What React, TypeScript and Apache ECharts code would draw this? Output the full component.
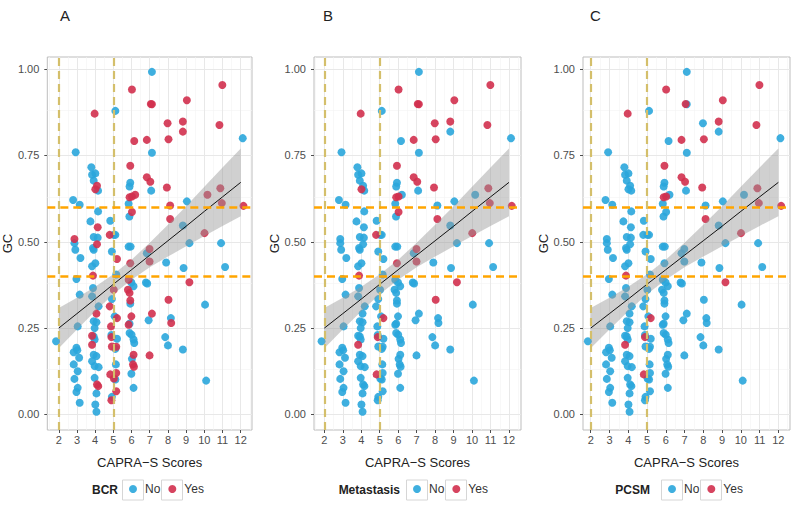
import React, { useEffect, useRef } from "react";
import * as echarts from "echarts";

// ---- data ----
// Patients without any event (blue in all three panels)
const capraNoEvent = [
  1.85, 2.79, 2.93, 3.15, 2.86, 2.91, 3.19, 2.97, 3.15, 3.04, 2.97, 2.82, 3.02, 3.12, 2.82, 3.04, 2.86, 3.04, 2.97, 3.15,
  3.79, 4.01, 3.83, 3.92, 4.16, 3.74, 4.16, 3.92, 4.14, 3.92, 3.88, 4.01, 3.83, 3.88, 3.83, 4.19, 3.92, 4.07, 3.97, 3.97,
  3.92, 4.07, 3.83, 3.97, 4.19, 3.97, 4.07, 4.01, 4.07, 3.92,
  5.11, 4.83, 5.02, 5.11, 4.92, 5.16, 4.92, 5.07, 5.2, 4.89, 5.11, 5.14, 5.11, 4.92,
  5.93, 5.89, 5.84, 5.88, 5.84, 5.95, 5.99, 6.11, 5.93, 5.89, 5.89, 6.0, 6.11, 6.15, 6.02, 5.99, 6.11,
  7.12, 7.12, 7.08, 6.84, 6.79, 6.86, 6.94,
  7.9, 7.85, 8.0, 8.16,
  9.04, 8.82, 9.18, 8.86, 8.82,
  10.04, 10.1,
  10.92, 11.14,
  12.11,
];
const gcNoEvent = [
  0.212, 0.621, 0.759, 0.607, 0.496, 0.477, 0.453, 0.392, 0.347, 0.255, 0.193, 0.18, 0.186, 0.164, 0.145, 0.125, 0.103, 0.077, 0.065, 0.034,
  0.716, 0.698, 0.694, 0.677, 0.648, 0.559, 0.588, 0.514, 0.512, 0.477, 0.482, 0.438, 0.429, 0.366, 0.342, 0.313, 0.27, 0.267, 0.25, 0.217,
  0.173, 0.169, 0.154, 0.14, 0.137, 0.106, 0.061, 0.029, 0.008, 0.226,
  0.879, 0.561, 0.52, 0.52, 0.472, 0.405, 0.334, 0.284, 0.219, 0.23, 0.19, 0.145, 0.101, 0.051,
  0.671, 0.66, 0.61, 0.573, 0.486, 0.486, 0.382, 0.371, 0.321, 0.263, 0.236, 0.231, 0.217, 0.207, 0.161, 0.118, 0.077,
  0.992, 0.758, 0.648, 0.467, 0.382, 0.379, 0.273,
  0.44, 0.224, 0.2, 0.279,
  0.617, 0.547, 0.496, 0.424, 0.188,
  0.318, 0.098,
  0.496, 0.427,
  0.8,
];
// Patients with BCR (red in panel A)
const capraBcr = [
  2.86,
  3.97, 4.1, 4.01, 4.14, 4.1, 3.88, 4.07, 3.83, 3.83, 4.1, 4.17,
  4.8, 5.2, 5.02, 4.8, 4.87, 5.2, 4.89, 4.92, 5.16, 4.83, 5.16, 5.03, 5.16, 4.89,
  6.02, 6.15, 5.93, 5.89, 6.02, 6.2, 6.02, 5.93, 5.84, 5.8, 5.89, 5.93, 5.99, 5.84, 6.11, 6.08, 6.13,
  7.06, 7.12, 6.84, 6.84, 7.03, 6.99, 6.99, 7.12, 6.99,
  7.98, 8.03, 7.94, 8.12, 8.12, 8.03, 8.18,
  9.04, 8.82, 8.82, 9.18,
  10.17, 10.01,
  10.99, 10.83, 10.88, 10.96,
  12.15,
];
const gcBcr = [
  0.508,
  0.871, 0.662, 0.652, 0.542, 0.493, 0.402, 0.292, 0.228, 0.202, 0.087, 0.082,
  0.52, 0.45, 0.361, 0.313, 0.255, 0.279, 0.224, 0.197, 0.196, 0.116, 0.12, 0.104, 0.067, 0.041,
  0.941, 0.792, 0.72, 0.629, 0.631, 0.636, 0.586, 0.438, 0.39, 0.361, 0.352, 0.33, 0.284, 0.26, 0.173, 0.145, 0.138,
  0.899, 0.898, 0.795, 0.687, 0.674, 0.479, 0.443, 0.292, 0.171,
  0.843, 0.797, 0.657, 0.605, 0.566, 0.332, 0.265,
  0.91, 0.848, 0.819, 0.383,
  0.636, 0.525,
  0.954, 0.838, 0.655, 0.612,
  0.604,
];
// Among BCR patients: metastasis (panel B) and PCSM (panel C), 1 = Yes
const metastasisFlags = [
  0,
  1, 0, 1, 0, 0, 1, 0, 0, 1, 0, 0,
  1, 0, 0, 0, 0, 1, 1, 0, 0, 1, 0, 0, 0, 0,
  1, 0, 1, 1, 1, 0, 1, 1, 0, 0, 0, 0, 0, 0, 0, 0, 0,
  1, 1, 1, 1, 1, 1, 1, 0, 0,
  1, 1, 1, 0, 1, 1, 0,
  1, 1, 0, 1,
  0, 1,
  1, 1, 1, 1,
  1,
];
const pcsmFlags = [
  0,
  1, 0, 0, 0, 0, 1, 0, 0, 1, 0, 0,
  0, 0, 0, 0, 0, 1, 1, 0, 0, 1, 0, 0, 0, 0,
  1, 0, 1, 1, 1, 0, 0, 0, 0, 0, 0, 0, 0, 0, 0, 0, 0,
  1, 0, 1, 1, 1, 0, 0, 0, 0,
  0, 1, 1, 0, 1, 0, 0,
  1, 1, 0, 1,
  0, 1,
  1, 1, 1, 1,
  1,
];

// Linear fit with 95% confidence band
const fitX = [2, 3, 4, 5, 6, 7, 8, 9, 10, 11, 12];
const fitY = [0.25, 0.292, 0.334, 0.377, 0.419, 0.461, 0.503, 0.545, 0.588, 0.63, 0.672];
const bandLo = [0.192, 0.246, 0.299, 0.348, 0.39, 0.426, 0.457, 0.487, 0.517, 0.546, 0.574];
const bandHi = [0.308, 0.338, 0.37, 0.406, 0.448, 0.497, 0.549, 0.603, 0.659, 0.715, 0.77];

const xTicks = [2, 3, 4, 5, 6, 7, 8, 9, 10, 11, 12];
const xMinor = [1.5, 2.5, 3.5, 4.5, 5.5, 6.5, 7.5, 8.5, 9.5, 10.5, 11.5, 12.5];
const yTicks = [0, 0.25, 0.5, 0.75, 1];
const yMinor = [0.125, 0.375, 0.625, 0.875];
const gcCutoffs = [0.4, 0.6];
const capraCutoffs = [2, 5];

const panelLetters = ["A", "B", "C"];
const outcomeNames = ["BCR", "Metastasis", "PCSM"];
const legendLabels = ["No", "Yes"];

// ---- layout / style ----
const FONT = "'Liberation Sans', Arial, sans-serif";
const BLUE = "#2aa6dc";
const RED = "#d2304e";
const panels = [
  { left: 47, width: 205, xMin: 1.37, xMax: 12.62, letterX: 60, legendLeft: 129, titleRight: 118 },
  { left: 314, width: 207, xMin: 1.44, xMax: 12.65, letterX: 323, legendLeft: 413, titleRight: 400 },
  { left: 583, width: 207, xMin: 1.59, xMax: 12.62, letterX: 590, legendLeft: 668, titleRight: 650 },
];
const GRID_TOP = 57;
const GRID_H = 373;

function buildOption() {
  const grid: any[] = [];
  const xAxis: any[] = [];
  const yAxis: any[] = [];
  const series: any[] = [];
  const legend: any[] = [];
  const graphic: any[] = [];

  const flagsByPanel = [null, metastasisFlags, pcsmFlags];

  panels.forEach((p, i) => {
    grid.push({
      left: p.left,
      top: GRID_TOP,
      width: p.width,
      height: GRID_H,
      show: true,
      borderColor: "#bdbdbd",
      borderWidth: 1,
      backgroundColor: "#ffffff",
    });
    xAxis.push({
      gridIndex: i,
      type: "value",
      min: p.xMin,
      max: p.xMax,
      splitLine: { show: false },
      axisLine: { show: false, onZero: false },
      axisTick: { show: true, customValues: xTicks, length: 3, lineStyle: { color: "#4d4d4d" } },
      axisLabel: { customValues: xTicks, color: "#4d4d4d", fontSize: 11, margin: 4, fontFamily: FONT },
      name: "CAPRA\u2212S Scores",
      nameLocation: "middle",
      nameGap: 26,
      nameTextStyle: { fontSize: 13, color: "#222", fontFamily: FONT },
    });
    yAxis.push({
      gridIndex: i,
      type: "value",
      min: -0.045,
      max: 1.035,
      splitLine: { show: false },
      axisLine: { show: false, onZero: false },
      axisTick: { show: true, customValues: yTicks, length: 3, lineStyle: { color: "#4d4d4d" } },
      axisLabel: {
        customValues: yTicks,
        color: "#4d4d4d",
        fontSize: 11,
        margin: 8,
        fontFamily: FONT,
        formatter: (v: number) => v.toFixed(2),
      },
      name: "GC",
      nameLocation: "middle",
      nameGap: 23,
      nameTextStyle: { fontSize: 13, color: "#222", fontFamily: FONT },
    });

    // grid lines (below the points)
    series.push({
      type: "line",
      xAxisIndex: i,
      yAxisIndex: i,
      data: [[xTicks[0], yTicks[0]]],
      symbol: "none",
      lineStyle: { opacity: 0 },
      silent: true,
      z: 1,
      markLine: {
        z: 1,
        silent: true,
        symbol: "none",
        label: { show: false },
        emphasis: { disabled: true },
        data: [
          ...yMinor.map((v) => ({ yAxis: v, lineStyle: { color: "#f3f3f3", width: 0.6, type: "solid" } })),
          ...xMinor.map((v) => ({ xAxis: v, lineStyle: { color: "#f3f3f3", width: 0.6, type: "solid" } })),
          ...yTicks.map((v) => ({ yAxis: v, lineStyle: { color: "#e8e8e8", width: 1, type: "solid" } })),
          ...xTicks.map((v) => ({ xAxis: v, lineStyle: { color: "#e8e8e8", width: 1, type: "solid" } })),
        ],
      },
    });

    // points
    const flags = flagsByPanel[i];
    const noData: number[][] = capraNoEvent.map((x, k) => [x, gcNoEvent[k]]);
    const yesData: number[][] = [];
    capraBcr.forEach((x, k) => {
      if (!flags || flags[k] === 1) yesData.push([x, gcBcr[k]]);
      else noData.push([x, gcBcr[k]]);
    });
    series.push({
      name: legendLabels[0],
      type: "scatter",
      xAxisIndex: i,
      yAxisIndex: i,
      data: noData,
      symbolSize: 8,
      itemStyle: { color: BLUE, opacity: 0.9, borderColor: BLUE, borderWidth: 0 },
      emphasis: { disabled: true },
      z: 3,
    });
    series.push({
      name: legendLabels[1],
      type: "scatter",
      xAxisIndex: i,
      yAxisIndex: i,
      data: yesData,
      symbolSize: 8,
      itemStyle: { color: RED, opacity: 0.9, borderColor: RED, borderWidth: 0 },
      emphasis: { disabled: true },
      z: 3,
    });

    // confidence band
    series.push({
      type: "custom",
      xAxisIndex: i,
      yAxisIndex: i,
      silent: true,
      z: 4,
      data: fitX.map((x, k) => [x, bandLo[k], bandHi[k]]),
      encode: { x: 0, y: [1, 2] },
      renderItem: (params: any, api: any) => {
        if (params.dataIndex !== 0) return null;
        const upper = fitX.map((x, k) => api.coord([x, bandHi[k]]));
        const lower = fitX.map((x, k) => api.coord([x, bandLo[k]])).reverse();
        return {
          type: "polygon",
          shape: { points: [...upper, ...lower] },
          style: { fill: "rgba(150,150,150,0.45)" },
        };
      },
    });

    // fit line
    series.push({
      type: "line",
      xAxisIndex: i,
      yAxisIndex: i,
      data: fitX.map((x, k) => [x, fitY[k]]),
      symbol: "none",
      lineStyle: { color: "#111", width: 1 },
      silent: true,
      z: 5,
    });

    // cut-off lines
    series.push({
      type: "line",
      xAxisIndex: i,
      yAxisIndex: i,
      data: [[xTicks[0], yTicks[0]]],
      symbol: "none",
      lineStyle: { opacity: 0 },
      silent: true,
      z: 6,
      markLine: {
        z: 6,
        silent: true,
        symbol: "none",
        label: { show: false },
        emphasis: { disabled: true },
        data: [
          ...capraCutoffs.map((v) => ({ xAxis: v, lineStyle: { color: "#d4bf6b", width: 2.2, type: [8, 5] } })),
          ...gcCutoffs.map((v) => ({ yAxis: v, lineStyle: { color: "#ffa500", width: 2.6, type: [8, 5] } })),
        ],
      },
    });

    legend.push({
      data: legendLabels,
      left: p.legendLeft,
      top: 483,
      padding: 0,
      icon: "circle",
      itemWidth: 8,
      itemHeight: 8,
      itemGap: 8,
      selectedMode: false,
      itemStyle: { borderWidth: 0 },
      textStyle: { fontSize: 12, color: "#333", fontFamily: FONT, padding: [0, 0, 0, 3] },
    });

    graphic.push({
      type: "text",
      left: p.letterX,
      top: 8,
      style: { text: panelLetters[i], font: `15px ${FONT}`, fill: "#222" },
    });
    graphic.push({
      type: "text",
      x: p.titleRight,
      y: 490,
      style: {
        text: outcomeNames[i],
        font: `bold 12px ${FONT}`,
        fill: "#222",
        align: "right",
        verticalAlign: "middle",
      },
    });
    const c1 = p.legendLeft + 4;
    const c2 = p.legendLeft + 43;
    [c1, c2].forEach((c) => {
      graphic.push({
        type: "rect",
        z: -1,
        shape: { x: c - 10.5, y: 480, width: 21, height: 20 },
        style: { fill: "none", stroke: "#d6d6d6", lineWidth: 1 },
      });
    });
  });

  return {
    animation: false,
    backgroundColor: "#ffffff",
    textStyle: { fontFamily: FONT },
    grid,
    xAxis,
    yAxis,
    series,
    legend,
    graphic,
  };
}

export default function App() {
  const ref = useRef<HTMLDivElement>(null);
  useEffect(() => {
    document.body.style.margin = "0";
    const chart = echarts.init(ref.current!, undefined, { renderer: "svg" });
    chart.setOption(buildOption() as any);
    return () => chart.dispose();
  }, []);
  return <div ref={ref} style={{ width: 800, height: 509 }} />;
}
